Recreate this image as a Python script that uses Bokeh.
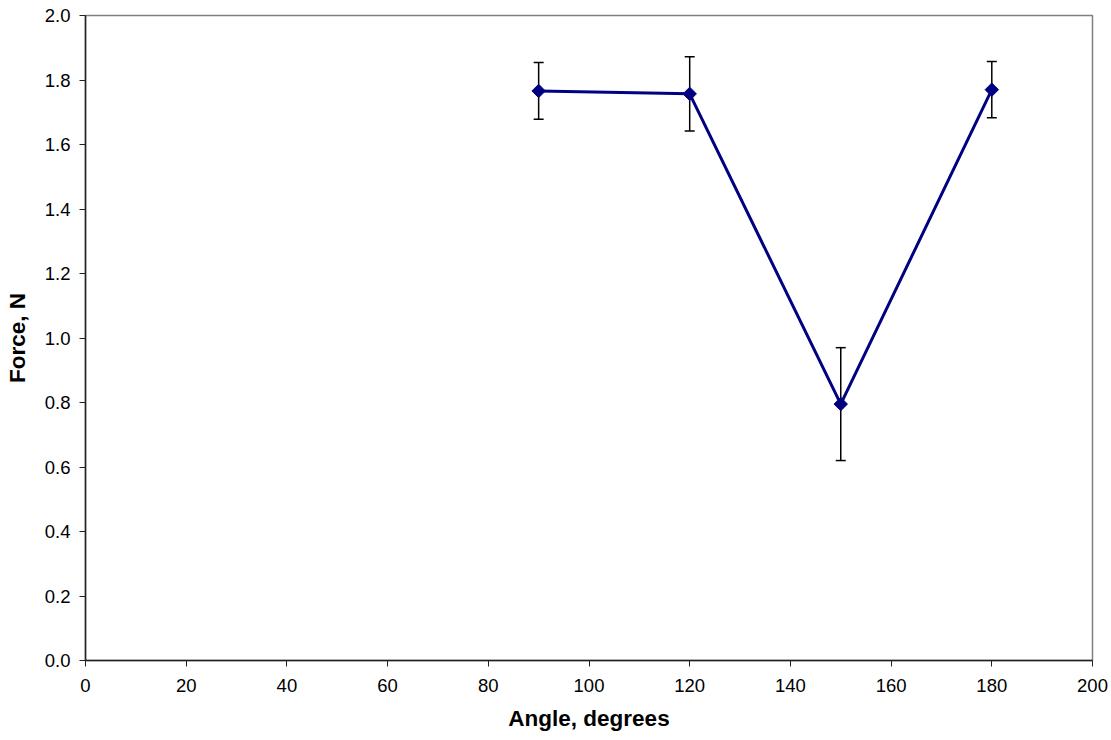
import math
from bokeh.plotting import figure
from bokeh.models import Range1d, FixedTicker, ColumnDataSource, Whisker, TeeHead, NumeralTickFormatter
from bokeh.embed import file_html
from bokeh.resources import INLINE

angles = [90, 120, 150, 180]
force = [1.766, 1.757, 0.795, 1.770]
err = [0.088, 0.115, 0.175, 0.087]
x_ticks = [0, 20, 40, 60, 80, 100, 120, 140, 160, 180, 200]
y_ticks = [0.0, 0.2, 0.4, 0.6, 0.8, 1.0, 1.2, 1.4, 1.6, 1.8, 2.0]

src = ColumnDataSource(dict(
    x=angles, y=force,
    lo=[f - e for f, e in zip(force, err)],
    hi=[f + e for f, e in zip(force, err)],
))

p = figure(width=1111, height=740, output_backend="svg", toolbar_location=None,
           x_range=Range1d(0, 200), y_range=Range1d(0, 2.0),
           min_border_left=85, min_border_right=19, min_border_top=15, min_border_bottom=80)
p.background_fill_color = "white"
p.border_fill_color = "white"
p.outline_line_color = "#808080"
p.outline_line_width = 1.5
p.grid.visible = False

for ax in (p.xaxis, p.yaxis):
    ax.axis_line_color = "#222222"
    ax.axis_line_width = 1.5
    ax.major_tick_line_color = "#222222"
    ax.major_tick_out = 6
    ax.major_tick_in = 0
    ax.minor_tick_line_color = None
    ax.major_label_text_font = "Liberation Sans"
    ax.major_label_text_font_size = "18.5px"
    ax.major_label_text_color = "black"
    ax.axis_label_text_font = "Liberation Sans"
    ax.axis_label_text_font_style = "bold"
    ax.axis_label_text_font_size = "22.5px"
    ax.axis_label_text_color = "black"

p.xaxis.ticker = FixedTicker(ticks=x_ticks)
p.yaxis.ticker = FixedTicker(ticks=y_ticks)
p.yaxis.formatter = NumeralTickFormatter(format="0.0")
p.xaxis.axis_label = "Angle, degrees"
p.yaxis.axis_label = "Force, N"
p.xaxis.major_label_standoff = 12
p.xaxis.axis_label_standoff = 11
p.yaxis.major_label_standoff = 9
p.yaxis.axis_label_standoff = 12

w = Whisker(source=src, base="x", upper="hi", lower="lo", line_color="black", line_width=1.5,
            upper_head=TeeHead(size=10, line_color="black", line_width=1.5),
            lower_head=TeeHead(size=10, line_color="black", line_width=1.5))
p.add_layout(w)

p.line("x", "y", source=src, line_color="#000080", line_width=3)
p.scatter("x", "y", source=src, marker="square", angle=math.pi / 4, size=9.5,
          fill_color="#000080", line_color="#000080")

open("out.html", "w").write(file_html(p, INLINE))
